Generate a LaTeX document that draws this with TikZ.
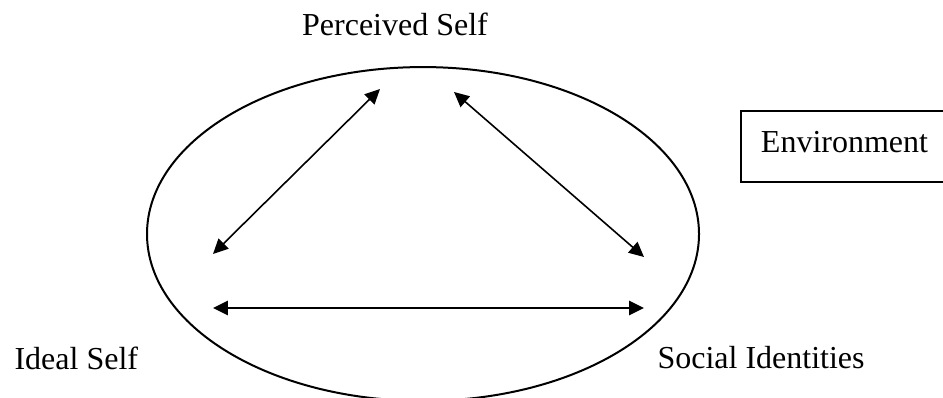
\documentclass[tikz,border=0pt]{standalone}
\usepackage{fontspec}
\setmainfont{Liberation Serif}
\usetikzlibrary{arrows.meta}

\tikzset{
  ring/.style={line width=0.75pt},
  link/.style={line width=0.6pt, {Triangle[length=5.6pt,width=5.3pt]}-{Triangle[length=5.6pt,width=5.3pt]}},
  baselink/.style={link, line width=0.95pt},
  lbl/.style={inner sep=0pt, font=\fontsize{12}{14}\selectfont},
  envbox/.style={draw, line width=0.6pt, inner sep=0pt, minimum width=77.6pt, minimum height=26.6pt,
    text height=0.7em, text depth=0.25em, font=\fontsize{12}{14}\selectfont}
}

\begin{document}
\begin{tikzpicture}[x=0.375pt,y=-0.375pt]
  \useasboundingbox (0,0) rectangle (943,398);
  \fill[white] (0,0) rectangle (943,398);

  % ============================================================
  %                       THE SELF (ellipse)
  % ============================================================
  \coordinate (selfc) at (423,234);
  \draw[ring] (selfc) ellipse [x radius=103.5pt, y radius=62.6pt];

  % ============================================================
  %                       LABELS
  % ============================================================
  \node[lbl, anchor=base] (perceived) at (395,36) {Perceived Self};
  \node[lbl, anchor=base west] (ideal) at (14,369) {Ideal Self};
  \node[lbl, anchor=base west] (social) at (657,368) {Social Identities};
  \node[envbox] (env) at (844.5,146.5) {Environment};

  % ============================================================
  %                       ARROW ENDS
  % ============================================================
  \coordinate (psL) at (380,89);
  \coordinate (psR) at (454,92);
  \coordinate (isT) at (213,254);
  \coordinate (isB) at (213,308);
  \coordinate (siT) at (644,257);
  \coordinate (siB) at (644,308);

  \draw[link] (isT) -- (psL);
  \draw[link] (psR) -- (siT);
  \draw[baselink] (isB) -- (siB);

\end{tikzpicture}
\end{document}
